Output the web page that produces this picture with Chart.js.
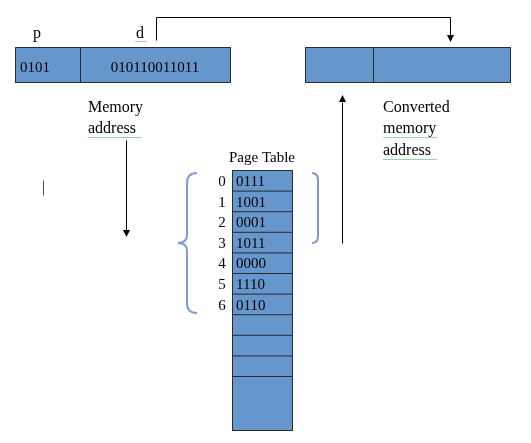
<!DOCTYPE html>
<html>
<head>
<script src="https://cdn.jsdelivr.net/npm/chart.js@4"></script>
<style>
  html, body { margin: 0; padding: 0; background: #fff; }
  #wrap { width: 531px; height: 443px; }
</style>
</head>
<body>
<div id="wrap"><canvas id="myChart"></canvas></div>
<script>
// Diagram data
const frameIndex = [0, 1, 2, 3, 4, 5, 6];
const frameValues = ['0111', '1001', '0001', '1011', '0000', '1110', '0110'];
const emptyRows = 3;
const pageBits = '0101';
const offsetBits = '010110011011';

const FILL = '#6596cc';
const EDGE = '#2b2b2b';
const SERIF = '"Liberation Serif", "Times New Roman", serif';

const diagram = {
    id: 'diagram',
    afterDraw(chart) {
        const c = chart.ctx;
        const X = v => chart.scales.x.getPixelForValue(v);
        const Y = v => chart.scales.y.getPixelForValue(v);

        function box(x1, y1, x2, y2) {
            c.fillStyle = FILL;
            c.fillRect(X(x1), Y(y1), X(x2) - X(x1), Y(y2) - Y(y1));
            c.strokeStyle = EDGE;
            c.lineWidth = 1;
            c.strokeRect(X(x1) + 0.5, Y(y1) + 0.5, X(x2) - X(x1), Y(y2) - Y(y1));
        }
        function line(x1, y1, x2, y2) {
            c.beginPath();
            c.moveTo(X(x1) + 0.5, Y(y1) + 0.5);
            c.lineTo(X(x2) + 0.5, Y(y2) + 0.5);
            c.stroke();
        }
        function head(x, y, dir) {
            c.fillStyle = '#000';
            c.beginPath();
            c.moveTo(X(x) + 0.5, Y(y));
            c.lineTo(X(x) - 3, Y(y) - 7 * dir);
            c.lineTo(X(x) + 4, Y(y) - 7 * dir);
            c.closePath();
            c.fill();
        }
        function text(s, x, y, size, align) {
            c.fillStyle = '#000';
            c.font = size + 'px ' + SERIF;
            c.textAlign = align || 'left';
            c.textBaseline = 'alphabetic';
            c.fillText(s, X(x), Y(y));
        }
        function squiggle(x1, x2, y) {
            c.strokeStyle = '#3fa34d';
            c.lineWidth = 1;
            c.setLineDash([1, 1]);
            line(x1, y, x2, y);
            c.setLineDash([]);
        }

        // address boxes
        box(15, 47, 230, 82); c.strokeStyle = EDGE; line(80, 47, 80, 82);
        box(305, 47, 510, 82); c.strokeStyle = EDGE; line(373, 47, 373, 82);
        text(pageBits, 20, 72, 15);
        text(offsetBits, 155, 72, 15, 'center');
        text('p', 33, 38, 16);
        text('d', 136, 38, 16);
        squiggle(135, 146, 41);

        // arrows
        c.strokeStyle = '#000'; c.lineWidth = 1;
        line(156, 40, 156, 17); line(156, 17, 450, 17); line(450, 17, 450, 36);
        head(450, 42, 1);
        line(126, 140, 126, 230); head(126, 237, 1);
        line(342, 243, 342, 102); head(342, 95, -1);
        c.strokeStyle = '#555'; line(43, 180, 43, 195);

        // labels
        text('Memory', 88, 112, 16);
        text('address', 88, 133, 16); squiggle(88, 142, 137);
        text('Converted', 383, 112, 16);
        text('memory', 383, 133, 16); squiggle(383, 436, 137);
        text('address', 383, 155, 16); squiggle(383, 437, 159);
        text('Page Table', 262, 162, 15, 'center');

        // page table
        const top = 170, rowH = 20.6;
        const total = frameValues.length + emptyRows;
        box(232, top, 292, 430);
        c.strokeStyle = EDGE;
        for (let i = 1; i <= total; i++) line(232, top + i * rowH, 292, top + i * rowH);
        frameValues.forEach((v, i) => {
            text(v, 236, top + i * rowH + 16, 15);
            text(String(frameIndex[i]), 222, top + i * rowH + 16, 15, 'center');
        });

        // braces
        c.strokeStyle = '#7e9ccf'; c.lineWidth = 2;
        c.beginPath();
        c.moveTo(X(197), Y(173)); c.quadraticCurveTo(X(187), Y(173), X(187), Y(183));
        c.lineTo(X(187), Y(235)); c.quadraticCurveTo(X(187), Y(243), X(178), Y(243));
        c.quadraticCurveTo(X(187), Y(243), X(187), Y(251));
        c.lineTo(X(187), Y(303)); c.quadraticCurveTo(X(187), Y(313), X(197), Y(313));
        c.stroke();
        c.beginPath();
        c.moveTo(X(312), Y(173)); c.quadraticCurveTo(X(318), Y(173), X(318), Y(180));
        c.lineTo(X(318), Y(236)); c.quadraticCurveTo(X(318), Y(243), X(312), Y(243));
        c.stroke();
    }
};

new Chart(document.getElementById('myChart'), {
    type: 'scatter',
    data: { datasets: [{ data: [] }] },
    options: {
        responsive: true,
        maintainAspectRatio: false,
        animation: false,
        layout: { padding: 0 },
        plugins: { legend: { display: false }, tooltip: { enabled: false } },
        scales: {
            x: { type: 'linear', min: 0, max: 531, display: false },
            y: { type: 'linear', min: 0, max: 443, reverse: true, display: false }
        }
    },
    plugins: [diagram]
});
</script>
</body>
</html>
